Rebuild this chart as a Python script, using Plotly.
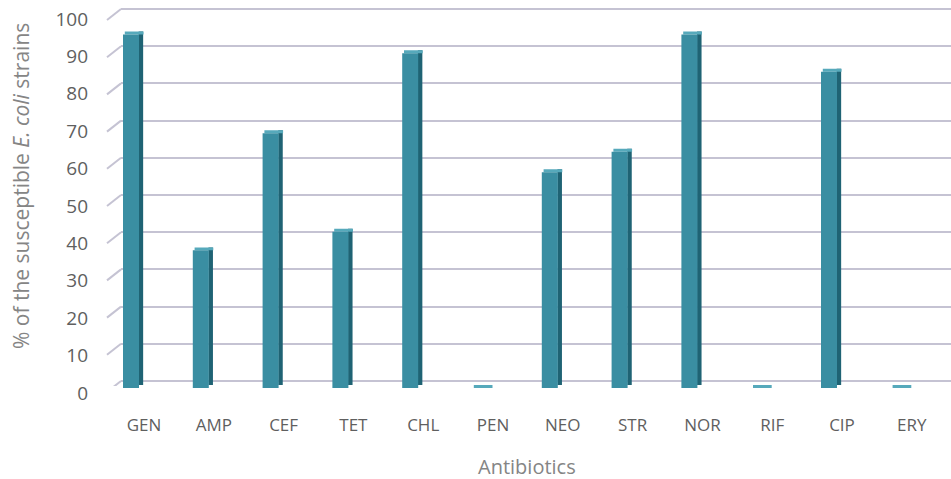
import plotly.graph_objects as go

# Susceptibility of E. coli strains to each antibiotic (%)
antibiotics = ["GEN", "AMP", "CEF", "TET", "CHL", "PEN", "NEO", "STR", "NOR", "RIF", "CIP", "ERY"]
susceptible_pct = [95, 37, 68.5, 42, 90, 0, 58, 63.5, 95, 0, 85, 0]
y_ticks = list(range(0, 101, 10))

W, H = 951, 479


def px_x(p):
    return p / W


def px_y(p):
    return 1 - p / H


def y_domain(top_px, bottom_px):
    return [px_y(bottom_px), px_y(top_px)]


# pixel scale of the value axes (pixels per unit)
unit = 3.72
cat_px = 69.8

# 3-D bar pieces: depth offsets in axis units
depth = 0.8                 # vertical rise of the top/side faces
face_w = 16 / cat_px        # front face width
side_w = 4.5 / cat_px       # side face width

front_color = "#3a8ea2"
side_color = "#1f6374"
top_color = "#56a9bb"
grid_color = "#c5c3d3"

fig = go.Figure()

# invisible carrier trace so the front label axes get drawn
fig.add_trace(go.Scatter(
    x=antibiotics, y=susceptible_pct, mode="markers",
    marker=dict(opacity=0), xaxis="x", yaxis="y",
    hoverinfo="skip", showlegend=False,
))
# carrier for the back wall grid subplot
fig.add_trace(go.Scatter(
    x=[0.5], y=[50], mode="markers", marker=dict(opacity=0),
    xaxis="x2", yaxis="y2", hoverinfo="skip", showlegend=False,
))

# side faces (drawn first, behind the front faces)
fig.add_trace(go.Bar(
    x=antibiotics, y=susceptible_pct, base=[depth] * len(antibiotics),
    width=side_w, offset=face_w / 2 - 0.005,
    marker=dict(color=side_color, line=dict(width=0)),
    xaxis="x3", yaxis="y3", hoverinfo="skip", showlegend=False,
))
# top faces
fig.add_trace(go.Bar(
    x=antibiotics, y=[depth] * len(antibiotics), base=susceptible_pct,
    width=face_w + side_w * 0.6, offset=-face_w / 2 + side_w * 0.4,
    marker=dict(color=top_color, line=dict(width=0)),
    xaxis="x3", yaxis="y3", hoverinfo="skip", showlegend=False,
))
# front faces
fig.add_trace(go.Bar(
    x=antibiotics, y=susceptible_pct,
    width=face_w, offset=-face_w / 2,
    marker=dict(color=front_color, line=dict(width=0)),
    xaxis="x3", yaxis="y3", showlegend=False,
    hovertemplate="%{x}: %{y}%<extra></extra>",
))

# back-wall gridline axis: 0 at y=381px, 100 at y=9px
back_top, back_bot = 4, 386
back_range = [(381 - back_bot) / unit, (381 - back_top) / unit]

# bar axis: 0 at y=388px
bar_top, bar_bot = 4, 392
bar_range = [(388 - bar_bot) / unit, (388 - bar_top) / unit]

# front tick-label axis: 0 at y=393px, 100 at y=19px
lab_unit = 3.74
lab_top, lab_bot = 10, 400
lab_range = [(393 - lab_bot) / lab_unit, (393 - lab_top) / lab_unit]

# diagonal floor/wall connectors on the left of each gridline
shapes = []
for v in y_ticks:
    shapes.append(dict(
        type="line", xref="paper", yref="y2",
        x0=px_x(107), y0=v - 11 / unit, x1=px_x(121), y1=v,
        line=dict(color=grid_color, width=2),
    ))

label_font = dict(family="Open Sans, sans-serif", size=17, color="#5f5f5f")
title_font = dict(family="Open Sans, sans-serif", size=20, color="#858585")

hidden = dict(showgrid=False, zeroline=False, showline=False,
              showticklabels=False, automargin=False)

fig.update_layout(
    width=W, height=H,
    margin=dict(l=0, r=0, t=0, b=0, autoexpand=False),
    paper_bgcolor="white", plot_bgcolor="rgba(0,0,0,0)",
    barmode="overlay",
    showlegend=False,
    shapes=shapes,
    # category labels (front edge)
    xaxis=dict(
        domain=[px_x(144 - cat_px / 2), px_x(144 + cat_px * 11.5)],
        range=[-0.5, 11.5], type="category",
        categoryorder="array", categoryarray=antibiotics,
        anchor="free", position=px_y(413), automargin=False,
        showgrid=False, zeroline=False, showline=False, ticks="",
        tickfont=label_font,
    ),
    yaxis=dict(
        domain=y_domain(lab_top, lab_bot), range=lab_range,
        anchor="free", position=px_x(88), automargin=False,
        tickvals=y_ticks, showgrid=False, zeroline=False, showline=False,
        ticks="", tickfont=dict(family="Open Sans, sans-serif", size=19, color="#5f5f5f"),
    ),
    # back wall grid
    xaxis2=dict(
        domain=[px_x(121), 1.0], range=[0, 1],
        anchor="y2", **hidden,
    ),
    yaxis2=dict(
        domain=y_domain(back_top, back_bot), range=back_range,
        anchor="x2",
        tickvals=y_ticks, showgrid=True, gridcolor=grid_color, gridwidth=2,
        zeroline=False, showline=False, showticklabels=False, automargin=False,
    ),
    # bars
    xaxis3=dict(
        domain=[px_x(131 - cat_px / 2), px_x(131 + cat_px * 11.5)],
        range=[-0.5, 11.5], type="category",
        categoryorder="array", categoryarray=antibiotics,
        anchor="y3", **hidden,
    ),
    yaxis3=dict(
        domain=y_domain(bar_top, bar_bot), range=bar_range,
        anchor="x3", **hidden,
    ),
    annotations=[
        dict(text="% of the susceptible <i>E. coli</i> strains",
             xref="paper", yref="paper", x=px_x(21), y=px_y(186),
             xanchor="center", yanchor="middle",
             textangle=-90, showarrow=False,
             font=dict(family="Open Sans, sans-serif", size=21, color="#858585")),
        dict(text="Antibiotics", xref="paper", yref="paper",
             x=px_x(527), y=px_y(466), xanchor="center", yanchor="middle",
             showarrow=False, font=title_font),
    ],
)

fig.write_html("out.html")
